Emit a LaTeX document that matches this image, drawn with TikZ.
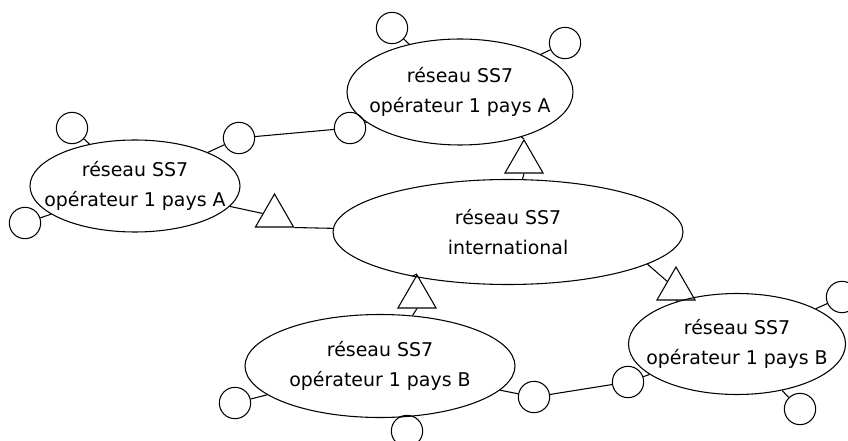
\documentclass[tikz,border=0pt]{standalone}
\usepackage{fontspec}
\setmainfont{DejaVu Sans}
\usepackage{tikz}
\usetikzlibrary{shapes,positioning}

\begin{document}
\begin{tikzpicture}[
    x=0.75pt, y=-0.75pt,
    reseau/.style={ellipse, draw, line width=0.8pt, inner sep=-20pt, align=center,
        font=\fontsize{14.2}{22.5}\selectfont},
    pointcode/.style={circle, draw, line width=0.8pt, minimum size=23.5pt, inner sep=0pt},
    passerelle/.style={regular polygon, regular polygon sides=3, draw, line width=0.8pt,
        minimum size=33pt, inner sep=0pt},
    lien/.style={line width=0.8pt}
]
\useasboundingbox (0,0) rectangle (848,441);

% Reseaux SS7
\node[reseau, minimum width=169.5pt, minimum height=79.5pt] (topA) at (460,92) {
    réseau SS7\\opérateur 1 pays A
};
\node[reseau, minimum width=157.5pt, minimum height=69pt] (leftA) at (135,186) {
    réseau SS7\\opérateur 1 pays A
};
\node[reseau, minimum width=262.5pt, minimum height=78.75pt] (intl) at (508,232) {
    réseau SS7\\international
};
\node[reseau, minimum width=202.5pt, minimum height=77.25pt] (botB) at (380,366) {
    réseau SS7\\opérateur 1 pays B
};
\node[reseau, minimum width=162.75pt, minimum height=75.75pt] (rightB) at (737,344) {
    réseau SS7\\opérateur 1 pays B
};

% Passerelles
\node[passerelle] (t1) at (524,162) {};
\node[passerelle] (t2) at (274.5,216) {};
\node[passerelle] (t3) at (417,297) {};
\node[passerelle] (t4) at (676,289) {};

% Points de code
\node[pointcode] (c1) at (392,28) {};
\node[pointcode] (c2) at (565,43) {};
\node[pointcode] (c3) at (239,138) {};
\node[pointcode] (c4) at (350,128) {};
\node[pointcode] (c5) at (72,128) {};
\node[pointcode] (c6) at (25,223) {};
\node[pointcode] (c7) at (235,403) {};
\node[pointcode] (c8) at (407,431) {};
\node[pointcode] (c9) at (534,397) {};
\node[pointcode] (c10) at (628,382) {};
\node[pointcode] (c11) at (842,297) {};
\node[pointcode] (c12) at (800,409) {};

% Liens passerelles
\draw[lien] (topA) -- (t1.corner 1);
\draw[lien] (t1.side 2) -- (intl);
\draw[lien] (leftA) -- (t2);
\draw[lien] (t2.corner 3) -- (intl);
\draw[lien] (t3.corner 1) -- (intl);
\draw[lien] (t3.side 2) -- (botB);
\draw[lien] (intl.-13) -- (t4);
\draw[lien] (t4.side 2) -- (rightB);

% Liens points de code
\draw[lien] (c1) -- (topA);
\draw[lien] (c2) -- (topA);
\draw[lien] (leftA) -- (c3) -- (c4) -- (topA);
\draw[lien] (c5) -- (leftA);
\draw[lien] (c6) -- (leftA);
\draw[lien] (c7) -- (botB);
\draw[lien] (c8) -- (botB);
\draw[lien] (botB) -- (c9) -- (c10) -- (rightB);
\draw[lien] (c11) -- (rightB);
\draw[lien] (c12) -- (rightB);

\end{tikzpicture}
\end{document}
